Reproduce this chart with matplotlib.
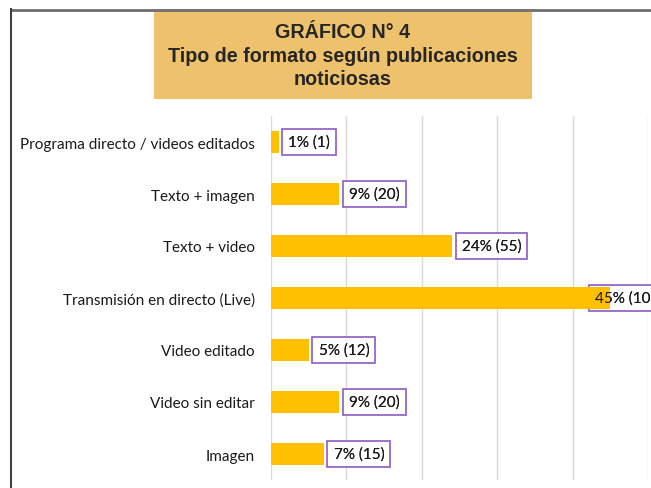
import matplotlib
matplotlib.use("Agg")
import matplotlib.pyplot as plt
from matplotlib.patches import Rectangle
from matplotlib.lines import Line2D

# Datos
categorias = [
    "Programa directo / videos editados",
    "Texto + imagen",
    "Texto + video",
    "Transmisión en directo (Live)",
    "Video editado",
    "Video sin editar",
    "Imagen",
]
porcentajes = [1, 9, 24, 45, 5, 9, 7]
cantidades = [1, 20, 55, 102, 12, 20, 15]
ticks_x = [0, 10, 20, 30, 40, 50]

W, H = 651, 489
fig = plt.figure(figsize=(W / 100, H / 100), dpi=100)
fig.patch.set_facecolor("white")

# marco de la página
fig.add_artist(Line2D([10.5 / W, 1], [1 - 11 / H, 1 - 11 / H], color="#6e6e6e", lw=2))
fig.add_artist(Line2D([10.5 / W, 10.5 / W], [0, 1 - 10 / H], color="#404040", lw=1.5))

# caja del título
fig.add_artist(Rectangle((154 / W, 1 - 100 / H), 378 / W, 88 / H,
                         transform=fig.transFigure, facecolor="#EEC16C", edgecolor="none"))
fig.text(343 / W, 1 - 56 / H, "GRÁFICO N° 4\nTipo de formato según publicaciones\nnoticiosas",
         ha="center", va="center", fontsize=14.2, fontweight="bold", color="#262626",
         family="Liberation Sans", linespacing=1.28)

ax = fig.add_axes([271 / W, 1 - 481 / H, (648 - 271) / W, 364 / H])
y = list(range(len(categorias)))
ax.barh(y, porcentajes, height=0.41, color="#FFC000", zorder=2)
ax.set_xlim(0, 50)
ax.set_ylim(len(categorias) - 0.5, -0.5)
ax.set_xticks(ticks_x)
ax.xaxis.grid(True, color="#D9D9D9", lw=1)
ax.set_axisbelow(True)
ax.tick_params(axis="x", bottom=False, labelbottom=False)
ax.tick_params(axis="y", left=False, pad=8)
ax.set_yticks(y)
ax.set_yticklabels(categorias, fontsize=11, family="Lato", color="#1a1a1a")
for s in ax.spines.values():
    s.set_visible(False)

for i, (p, n) in enumerate(zip(porcentajes, cantidades)):
    lab = f"{p}% ({n})"
    x = p + 1.3
    if p == max(porcentajes):
        x = p - 2.0
    box = dict(boxstyle="square,pad=0.4", facecolor="white", edgecolor="#8E5BC2", lw=1.2)
    ax.text(x, i, lab, va="center", ha="left", fontsize=11, family="Lato",
            color="#1a1a1a", bbox=box, zorder=1.5, clip_on=False)
    ax.text(x, i, lab, va="center", ha="left", fontsize=11, family="Lato",
            color="#1a1a1a", zorder=3, clip_on=False)

fig.savefig("out.png", dpi=100)
